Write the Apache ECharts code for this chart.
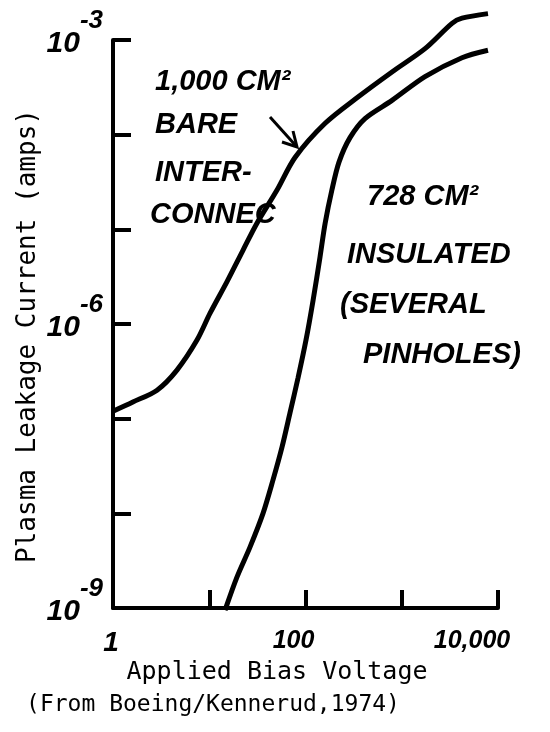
<!DOCTYPE html>
<html>
<head>
<meta charset="utf-8">
<script src="https://cdn.jsdelivr.net/npm/echarts@6/dist/echarts.min.js"></script>
<style>
html,body{margin:0;padding:0;background:#fff;}
#chart{width:550px;height:732px;}
</style>
</head>
<body>
<div id="chart"></div>
<script>
// Bare interconnect (1,000 cm^2)
var bareVoltage = [1, 1.61, 2.87, 4.62, 7.46, 10.2, 15.3, 22.4, 31.3, 50.6, 77.8, 160, 351, 792, 1745, 3327, 4227, 7870];
var bareCurrent = [1.2e-7, 1.5e-7, 2.0e-7, 3.26e-7, 6.76e-7, 1.3e-6, 2.8e-6, 6.0e-6, 1.16e-5, 2.6e-5, 5.75e-5, 1.32e-4, 2.5e-4, 4.6e-4, 8.1e-4, 1.5e-3, 1.7e-3, 1.9e-3];
// Insulated (728 cm^2, several pinholes)
var insVoltage = [14.6, 19.4, 26.5, 36.2, 45.9, 57, 69, 83.6, 101.2, 120, 141.5, 160, 188, 222.8, 290, 415, 792, 1745, 4227, 7870];
var insCurrent = [9.5e-10, 2.12e-9, 4.4e-9, 1.0e-8, 2.24e-8, 5.0e-8, 1.15e-7, 2.69e-7, 6.76e-7, 1.79e-6, 5.1e-6, 1.16e-5, 2.6e-5, 5.13e-5, 9.3e-5, 1.48e-4, 2.3e-4, 4.1e-4, 6.5e-4, 7.8e-4];
// tick labels
var xTickLabels = {'1': '1', '100': '100', '10000': '10,000'};
var yTickExponents = {'-9': '-9', '-6': '-6', '-3': '-3'};

function pairs(xs, ys) { return xs.map(function (x, i) { return [x, ys[i]]; }); }

var chart = echarts.init(document.getElementById('chart'));
var hand = 'italic bold 29px "Liberation Sans"';
var mono = '"DejaVu Sans Mono"';
function hs(size, extra) {
  var o = {fontFamily: 'Liberation Sans', fontStyle: 'italic', fontWeight: 'bold', fontSize: size, color: '#000'};
  for (var k in extra) o[k] = extra[k];
  return o;
}

chart.setOption({
  backgroundColor: '#fff',
  animation: false,
  grid: {left: 113, right: 52, top: 40, bottom: 124},
  xAxis: {
    type: 'log', logBase: 10, min: 1, max: 10000, interval: 1,
    axisLine: {lineStyle: {color: '#000', width: 4}},
    axisTick: {inside: true, length: 18, lineStyle: {color: '#000', width: 4}},
    splitLine: {show: false},
    axisLabel: {
      margin: 21,
      formatter: function (v) {
        var k = String(Math.round(v));
        if (k === '1') return '{a|' + xTickLabels[k] + '}';
        if (k === '100') return '{b|' + xTickLabels[k] + '}';
        if (k === '10000') return '{c|' + xTickLabels[k] + '}';
        return '';
      },
      rich: {
        a: hs(28, {padding: [0, 4, 0, 0]}),
        b: hs(25, {padding: [0, 24, 0, 0]}),
        c: hs(25, {padding: [0, 52, 0, 0]})
      }
    }
  },
  yAxis: {
    type: 'log', logBase: 10, min: 1e-9, max: 1e-3, interval: 1,
    axisLine: {lineStyle: {color: '#000', width: 4}},
    axisTick: {inside: true, length: 18, lineStyle: {color: '#000', width: 4}},
    splitLine: {show: false},
    axisLabel: {
      margin: 10,
      padding: [0, 0, 14, 0],
      formatter: function (v) {
        var e = String(Math.round(Math.log10(v)));
        if (yTickExponents[e]) return '{b|10}{s|' + yTickExponents[e] + '}';
        return '';
      },
      rich: {
        b: hs(30, {verticalAlign: 'bottom', padding: [20, 0, 0, 0]}),
        s: hs(26, {verticalAlign: 'top', padding: [0, 0, 25, 0]})
      }
    }
  },
  series: [
    {
      type: 'line', data: pairs(bareVoltage, bareCurrent), showSymbol: false, smooth: 0.3, clip: false,
      lineStyle: {color: '#000', width: 5}
    },
    {
      type: 'line', data: pairs(insVoltage, insCurrent), showSymbol: false, smooth: 0.3, clip: false,
      lineStyle: {color: '#000', width: 5}
    }
  ],
  graphic: [
    {type: 'text', x: 28, y: 336, rotation: Math.PI / 2,
      style: {text: 'Plasma Leakage Current (amps)', font: '26px ' + mono, fill: '#000', textAlign: 'center', textVerticalAlign: 'middle'}},
    {type: 'text', x: 277, y: 672,
      style: {text: 'Applied Bias Voltage', font: '25px ' + mono, fill: '#000', textAlign: 'center', textVerticalAlign: 'middle'}},
    {type: 'text', x: 213, y: 705,
      style: {text: '(From Boeing/Kennerud,1974)', font: '23px ' + mono, fill: '#000', textAlign: 'center', textVerticalAlign: 'middle'}},
    {type: 'text', x: 155, y: 82, style: {text: '1,000 CM²', font: hand, fill: '#000', textVerticalAlign: 'middle'}},
    {type: 'text', x: 155, y: 125, style: {text: 'BARE', font: hand, fill: '#000', textVerticalAlign: 'middle'}},
    {type: 'text', x: 155, y: 173, style: {text: 'INTER-', font: hand, fill: '#000', textVerticalAlign: 'middle'}},
    {type: 'text', x: 150, y: 215, style: {text: 'CONNEC', font: hand, fill: '#000', textVerticalAlign: 'middle'}},
    {type: 'text', x: 367, y: 197, style: {text: '728 CM²', font: hand, fill: '#000', textVerticalAlign: 'middle'}},
    {type: 'text', x: 347, y: 255, style: {text: 'INSULATED', font: hand, fill: '#000', textVerticalAlign: 'middle'}},
    {type: 'text', x: 340, y: 305, style: {text: '(SEVERAL', font: hand, fill: '#000', textVerticalAlign: 'middle'}},
    {type: 'text', x: 363, y: 355, style: {text: 'PINHOLES)', font: hand, fill: '#000', textVerticalAlign: 'middle'}},
    {type: 'polyline', shape: {points: [[270, 117], [297, 147]]}, style: {stroke: '#000', lineWidth: 3, fill: null}},
    {type: 'polyline', shape: {points: [[282, 142], [297, 147], [293, 131]]}, style: {stroke: '#000', lineWidth: 3, fill: null}}
  ]
});
</script>
</body>
</html>
